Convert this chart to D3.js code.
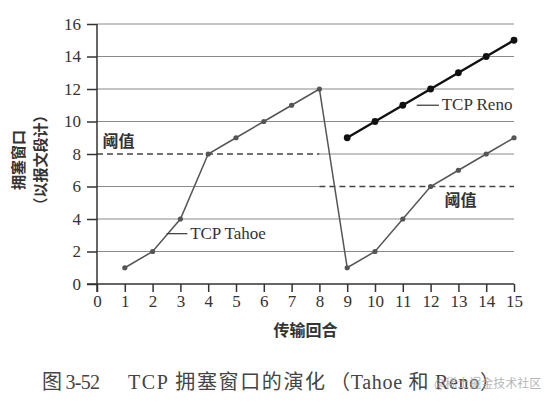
<!DOCTYPE html>
<html><head><meta charset="utf-8">
<script src="https://cdn.jsdelivr.net/npm/d3@7"></script>
<style>body{margin:0;background:#fff}svg{display:block}</style>
</head><body>
<script>
const rounds = [1,2,3,4,5,6,7,8,9,10,11,12,13,14,15];
const tahoe = [1,2,4,8,9,10,11,12,1,2,4,6,7,8,9];
const renoRounds = [9,10,11,12,13,14,15];
const reno = [9,10,11,12,13,14,15];
const xTicks = [0,1,2,3,4,5,6,7,8,9,10,11,12,13,14,15];
const yTicks = [0,2,4,6,8,10,12,14,16];
const thresholds = [{from:0,to:8,value:8},{from:8,to:15,value:6}];

const W=548,H=401;
const svg=d3.select("body").append("svg").attr("width",W).attr("height",H);
const x=d3.scaleLinear().domain([0,15]).range([97,514]);
const y=d3.scaleLinear().domain([0,16]).range([284,24]);
const serif="'Liberation Serif','DejaVu Serif',serif";
const mixed="'Liberation Serif','Noto Sans CJK SC',serif";
const cjk="'Noto Sans CJK SC',sans-serif";

// gridlines (skip parts covered by dashed thresholds)
yTicks.filter(v=>v>0).forEach(v=>{
  const t=thresholds.find(d=>d.value===v);
  let segs=[[0,15]];
  if(t){ segs = t.from===0?[[t.to,15]]:[[0,t.from]]; }
  segs.forEach(s=>svg.append("line").attr("x1",x(s[0])).attr("x2",x(s[1])).attr("y1",y(v)).attr("y2",y(v))
    .attr("stroke","#8a8a8a").attr("stroke-width",1.2));
});
thresholds.forEach(t=>svg.append("line").attr("x1",x(t.from)).attr("x2",x(t.to)).attr("y1",y(t.value)).attr("y2",y(t.value))
  .attr("stroke","#444").attr("stroke-width",1.4).attr("stroke-dasharray","6,4"));

// axes
const xAxis=svg.append("g").attr("transform",`translate(0,${y(0)})`)
  .call(d3.axisBottom(x).tickValues(xTicks).tickSize(8).tickPadding(3).tickSizeOuter(0));
const yAxis=svg.append("g").attr("transform",`translate(${x(0)},0)`)
  .call(d3.axisLeft(y).tickValues(yTicks).tickSize(10).tickPadding(6).tickSizeOuter(0));
[xAxis,yAxis].forEach(a=>{
  a.attr("font-family",null).attr("font-size",null);
  a.select(".domain").attr("stroke","#333").attr("stroke-width",1.5);
  a.selectAll(".tick line").attr("stroke","#333").attr("stroke-width",1.5);
  a.selectAll("text").style("font-family",serif).style("font-size","17px").attr("fill","#333");
});
xAxis.select(".domain").attr("d",`M${x(0)-10},0H${x(15)}`);
yAxis.select(".domain").attr("d",`M0,${y(16)}V${y(0)+8}`);

// Tahoe
const tData=rounds.map((r,i)=>[r,tahoe[i]]);
svg.append("path").datum(tData).attr("fill","none").attr("stroke","#555").attr("stroke-width",1.5)
  .attr("d",d3.line().x(d=>x(d[0])).y(d=>y(d[1])));
svg.selectAll(".tp").data(tData).enter().append("circle").attr("cx",d=>x(d[0])).attr("cy",d=>y(d[1])).attr("r",2.6).attr("fill","#555");

// Reno
const rData=renoRounds.map((r,i)=>[r,reno[i]]);
svg.append("path").datum(rData).attr("fill","none").attr("stroke","#111").attr("stroke-width",2.4)
  .attr("d",d3.line().x(d=>x(d[0])).y(d=>y(d[1])));
svg.selectAll(".rp").data(rData).enter().append("circle").attr("cx",d=>x(d[0])).attr("cy",d=>y(d[1])).attr("r",3.4).attr("fill","#111");

// annotations
svg.append("line").attr("x1",x(2.5)).attr("x2",x(3.25)).attr("y1",y(3.1)).attr("y2",y(3.1)).attr("stroke","#444").attr("stroke-width",1.3);
svg.append("text").attr("x",x(3.35)).attr("y",y(3.1)+5).text("TCP Tahoe").style("font-family",serif).style("font-size","17px").attr("fill","#333");
svg.append("line").attr("x1",x(11.5)).attr("x2",x(12.3)).attr("y1",y(11)).attr("y2",y(11)).attr("stroke","#444").attr("stroke-width",1.3);
svg.append("text").attr("x",x(12.4)).attr("y",y(11)+5).text("TCP Reno").style("font-family",serif).style("font-size","17px").attr("fill","#333");
svg.append("text").attr("x",x(0.2)).attr("y",y(8)-7).text("阈值").style("font-family",cjk).attr("font-weight","bold").style("font-size","16px").attr("fill","#333");
svg.append("text").attr("x",x(12.5)).attr("y",y(6)+19).text("阈值").style("font-family",cjk).attr("font-weight","bold").style("font-size","16px").attr("fill","#333");

// axis titles
svg.append("text").attr("transform","translate(24,160) rotate(-90)").attr("text-anchor","middle")
  .text("拥塞窗口").style("font-family",cjk).attr("font-weight","bold").style("font-size","15px").attr("fill","#333");
svg.append("text").attr("transform","translate(46,160) rotate(-90)").attr("text-anchor","middle")
  .text("（以报文段计）").style("font-family",cjk).attr("font-weight","bold").style("font-size","15px").attr("fill","#333");
svg.append("text").attr("x",x(7.5)).attr("y",336).attr("text-anchor","middle")
  .text("传输回合").style("font-family",cjk).attr("font-weight","bold").style("font-size","16px").attr("fill","#333");

// caption
const cap=[{t:"图 3-52",x:42,w:58},{t:"TCP 拥塞窗口的演化",x:128,w:197},{t:"（Tahoe 和 Reno）",x:330,w:170}];
cap.forEach(c=>svg.append("text").attr("x",c.x).attr("y",389).text(c.t)
  .attr("textLength",c.w).attr("lengthAdjust","spacing")
  .style("font-family",mixed).style("font-size","20px").attr("fill","#444"));
svg.append("text").attr("x",434).attr("y",388).text("@稀土掘金技术社区")
  .style("font-family",cjk).style("font-size","12px").attr("fill","#aaa").attr("opacity",0.85);
</script>
</body></html>
